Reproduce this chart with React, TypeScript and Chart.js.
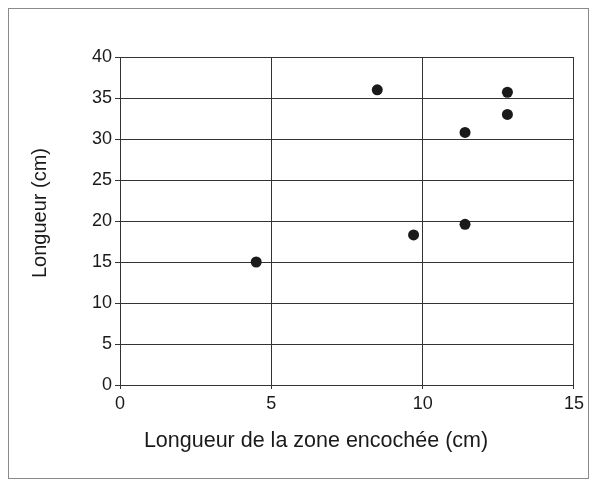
import React, { useEffect, useRef } from "react";
import { Chart, registerables } from "chart.js";

Chart.register(...registerables);

// Longueur de la zone encochée (cm)
const zoneLength = [4.5, 8.5, 9.7, 11.4, 11.4, 12.8, 12.8];
// Longueur (cm)
const totalLength = [15, 36, 18.3, 30.8, 19.6, 35.7, 33];

const xTicks = [0, 5, 10, 15];
const yTicks = [0, 5, 10, 15, 20, 25, 30, 35, 40];

const xTitle = "Longueur de la zone encochée (cm)";
const yTitle = "Longueur (cm)";

const FONT = "'Liberation Sans', Arial, sans-serif";
const INK = "#1a1a1a";
const GRID = "#333333";

// Axis captions drawn a little off the plot centre, as in the printed figure
const captions = {
  id: "captions",
  afterDraw(chart: any) {
    const { ctx } = chart;
    ctx.save();
    ctx.fillStyle = INK;
    ctx.textAlign = "center";
    ctx.textBaseline = "middle";
    ctx.font = `21.5px ${FONT}`;
    ctx.fillText(xTitle, 307, 432);
    ctx.translate(31, 204);
    ctx.rotate(-Math.PI / 2);
    ctx.font = `20px ${FONT}`;
    ctx.fillText(yTitle, 0, 0);
    ctx.restore();
  },
};

export default function App() {
  const canvasRef = useRef<HTMLCanvasElement | null>(null);

  useEffect(() => {
    if (!canvasRef.current) return;
    const points = zoneLength.map((x, i) => ({ x, y: totalLength[i] }));
    const chart = new Chart(canvasRef.current, {
      type: "scatter",
      data: {
        datasets: [
          {
            data: points,
            backgroundColor: INK,
            borderColor: INK,
            pointRadius: 5.5,
            pointHoverRadius: 5.5,
            pointBorderWidth: 0,
          },
        ],
      },
      options: {
        animation: false,
        responsive: false,
        maintainAspectRatio: false,
        layout: { padding: { top: 48, right: 14, bottom: 0, left: 0 } },
        plugins: { legend: { display: false }, tooltip: { enabled: false } },
        scales: {
          x: {
            type: "linear",
            min: xTicks[0],
            max: xTicks[xTicks.length - 1],
            afterBuildTicks: (s: any) => {
              s.ticks = xTicks.map((v) => ({ value: v }));
            },
            afterFit: (s: any) => {
              s.height = 93;
            },
            grid: { color: GRID, lineWidth: 1, tickLength: 4, drawTicks: true },
            border: { color: GRID, width: 1 },
            ticks: { color: INK, font: { family: FONT, size: 18 }, padding: 4, maxRotation: 0 },
            title: { display: false },
          },
          y: {
            type: "linear",
            min: yTicks[0],
            max: yTicks[yTicks.length - 1],
            afterBuildTicks: (s: any) => {
              s.ticks = yTicks.map((v) => ({ value: v }));
            },
            afterFit: (s: any) => {
              s.width = 111;
            },
            grid: { color: GRID, lineWidth: 1, tickLength: 5, drawTicks: true },
            border: { color: GRID, width: 1 },
            ticks: { color: INK, font: { family: FONT, size: 18 }, padding: 3 },
            title: { display: false },
          },
        },
      },
      plugins: [captions],
    });
    return () => chart.destroy();
  }, []);

  return (
    <div
      style={{
        width: 579,
        height: 469,
        border: "1px solid #8a8a8a",
        background: "#fff",
      }}
    >
      <canvas ref={canvasRef} width={579} height={469} style={{ display: "block" }} />
    </div>
  );
}
